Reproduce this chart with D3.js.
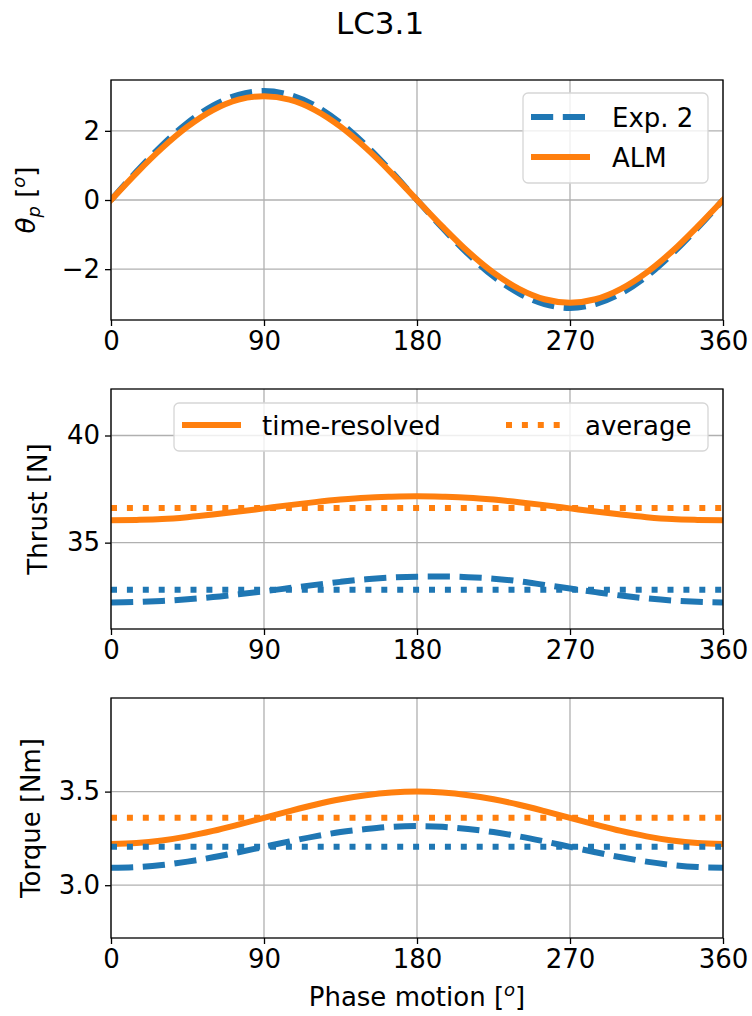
<!DOCTYPE html>
<html>
<head>
<meta charset="utf-8">
<script src="https://cdn.jsdelivr.net/npm/d3@7"></script>
<style>
  body { margin: 0; background: #fff; }
  svg { display: block; font-family: "DejaVu Sans", sans-serif; }
</style>
</head>
<body>
<div id="chart"></div>
<script>
// phase positions (deg)
var phase = [0, 15, 30, 45, 60, 75, 90, 105, 120, 135, 150, 165, 180,
    195, 210, 225, 240, 255, 270, 285, 300, 315, 330, 345, 360];

var thetaExp = [0, 0.82, 1.58, 2.23, 2.73, 3.04, 3.15, 3.04, 2.73, 2.23, 1.58, 0.82, 0,
    -0.81, -1.56, -2.21, -2.70, -3.01, -3.12, -3.01, -2.70, -2.21, -1.56, -0.81, 0];
var thetaAlm = [0, 0.78, 1.50, 2.12, 2.60, 2.90, 3.00, 2.90, 2.60, 2.12, 1.50, 0.78, 0,
    -0.77, -1.49, -2.10, -2.57, -2.87, -2.97, -2.87, -2.57, -2.10, -1.49, -0.77, 0];

var thrustExp = [32.21, 32.23, 32.28, 32.36, 32.46, 32.59, 32.73, 32.88, 33.03, 33.17, 33.29, 33.37, 33.41,
    33.42, 33.39, 33.32, 33.20, 33.03, 32.86, 32.69, 32.53, 32.40, 32.30, 32.24, 32.21];
var thrustAlm = [36.04, 36.06, 36.10, 36.19, 36.31, 36.45, 36.60, 36.75, 36.89, 37.01, 37.10, 37.14, 37.16,
    37.14, 37.10, 37.01, 36.89, 36.75, 36.60, 36.45, 36.31, 36.19, 36.10, 36.06, 36.04];
var thrustExpAvg = 32.80;
var thrustAlmAvg = 36.62;

var torqueExp = [3.093, 3.097, 3.108, 3.126, 3.149, 3.176, 3.205, 3.234, 3.261, 3.284, 3.300, 3.312, 3.316,
    3.312, 3.300, 3.284, 3.261, 3.234, 3.205, 3.176, 3.149, 3.126, 3.108, 3.097, 3.093];
var torqueAlm = [3.220, 3.225, 3.239, 3.261, 3.290, 3.324, 3.360, 3.396, 3.430, 3.459, 3.481, 3.495, 3.500,
    3.495, 3.481, 3.459, 3.430, 3.396, 3.360, 3.324, 3.290, 3.261, 3.239, 3.225, 3.220];
var torqueExpAvg = 3.205;
var torqueAlmAvg = 3.361;

var xTicks = [0, 90, 180, 270, 360];

var blue = "#1f77b4";
var orange = "#ff7f0e";

var width = 752, height = 1016;
var left = 111, right = 723, panelH = 240;
var fs = 26;

var svg = d3.select("#chart").append("svg")
    .attr("width", width)
    .attr("height", height);

var x = d3.scaleLinear().domain([0, 360]).range([left, right]);

var panels = [
    {top: 80, domain: [-3.47, 3.47], ticks: [-2, 0, 2], fmt: d3.format("d"), labelX: 35, label: "theta",
        lines: [
            {data: thetaExp, color: blue, dash: "22.2,9.6"},
            {data: thetaAlm, color: orange, dash: null}
        ]},
    {top: 389, domain: [30.97, 42.17], ticks: [35, 40], fmt: d3.format("d"), labelX: 47, label: "Thrust [N]",
        lines: [
            {data: thrustAlm, color: orange, dash: null},
            {avg: thrustAlmAvg, color: orange, dash: "6,9.9"},
            {data: thrustExp, color: blue, dash: "22.2,9.6"},
            {avg: thrustExpAvg, color: blue, dash: "6,9.9"}
        ]},
    {top: 698, domain: [2.718, 4.0], ticks: [3.0, 3.5], fmt: d3.format(".1f"), labelX: 40, label: "Torque [Nm]",
        lines: [
            {data: torqueAlm, color: orange, dash: null},
            {avg: torqueAlmAvg, color: orange, dash: "6,9.9"},
            {data: torqueExp, color: blue, dash: "22.2,9.6"},
            {avg: torqueExpAvg, color: blue, dash: "6,9.9"}
        ]}
];

svg.append("text")
    .attr("x", 380)
    .attr("y", 34)
    .attr("text-anchor", "middle")
    .attr("font-size", 31)
    .text("LC3.1");

panels.forEach(function (p, i) {
    var y = d3.scaleLinear().domain(p.domain).range([p.top + panelH, p.top]);
    var g = svg.append("g");

    g.append("clipPath")
        .attr("id", "clip" + i)
        .append("rect")
        .attr("x", left).attr("y", p.top)
        .attr("width", right - left).attr("height", panelH);

    // grid
    g.selectAll(".vgrid").data(xTicks).enter().append("line")
        .attr("x1", function (d) { return x(d); })
        .attr("x2", function (d) { return x(d); })
        .attr("y1", p.top).attr("y2", p.top + panelH)
        .attr("stroke", "#b0b0b0").attr("stroke-width", 1.3);
    g.selectAll(".hgrid").data(p.ticks).enter().append("line")
        .attr("y1", function (d) { return y(d); })
        .attr("y2", function (d) { return y(d); })
        .attr("x1", left).attr("x2", right)
        .attr("stroke", "#b0b0b0").attr("stroke-width", 1.3);

    var line = d3.line()
        .x(function (d) { return x(d[0]); })
        .y(function (d) { return y(d[1]); })
        .curve(d3.curveMonotoneX);

    var plot = g.append("g").attr("clip-path", "url(#clip" + i + ")");
    p.lines.forEach(function (s) {
        var pts = s.data ? phase.map(function (ph, k) { return [ph, s.data[k]]; })
            : [[0, s.avg], [360, s.avg]];
        plot.append("path")
            .attr("d", line(pts))
            .attr("fill", "none")
            .attr("stroke", s.color)
            .attr("stroke-width", 6)
            .attr("stroke-dasharray", s.dash)
            .attr("stroke-linecap", s.dash ? "butt" : "square");
    });

    // spines
    g.append("rect")
        .attr("x", left).attr("y", p.top)
        .attr("width", right - left).attr("height", panelH)
        .attr("fill", "none").attr("stroke", "#000").attr("stroke-width", 1.3);

    // x axis
    var xAxis = g.append("g")
        .attr("transform", "translate(0," + (p.top + panelH) + ")")
        .call(d3.axisBottom(x).tickValues(xTicks).tickSize(6).tickPadding(6).tickFormat(d3.format("d")));
    xAxis.select(".domain").remove();
    xAxis.selectAll("line").attr("stroke-width", 1.3);
    xAxis.selectAll("text").attr("font-size", fs).attr("fill", "#000")
        .attr("font-family", "DejaVu Sans");

    // y axis
    var yAxis = g.append("g")
        .attr("transform", "translate(" + left + ",0)")
        .call(d3.axisLeft(y).tickValues(p.ticks).tickSize(6).tickPadding(5)
            .tickFormat(function (d) { return p.fmt(d).replace("-", "\u2212"); }));
    yAxis.select(".domain").remove();
    yAxis.selectAll("line").attr("stroke-width", 1.3);
    yAxis.selectAll("text").attr("font-size", fs).attr("fill", "#000")
        .attr("font-family", "DejaVu Sans");

    // y label
    var cy = p.top + panelH / 2;
    var lab = svg.append("text")
        .attr("transform", "translate(" + p.labelX + "," + cy + ") rotate(-90)")
        .attr("text-anchor", "middle")
        .attr("font-size", fs);
    if (p.label === "theta") {
        lab.append("tspan").attr("font-style", "italic").text("\u03b8");
        lab.append("tspan").attr("font-style", "italic").attr("font-size", 18).attr("dy", 5).text("p");
        lab.append("tspan").attr("dy", -5).text(" [");
        lab.append("tspan").attr("font-style", "italic").attr("font-size", 18).attr("dy", -10).text("o");
        lab.append("tspan").attr("dy", 10).text("]");
    } else {
        lab.text(p.label);
    }
});

// x label
var xl = svg.append("text")
    .attr("x", (left + right) / 2)
    .attr("y", 1006)
    .attr("text-anchor", "middle")
    .attr("font-size", fs);
xl.append("tspan").text("Phase motion [");
xl.append("tspan").attr("font-style", "italic").attr("font-size", 18).attr("dy", -10).text("o");
xl.append("tspan").attr("dy", 10).text("]");

// legends
function legendBox(x0, y0, w, h) {
    svg.append("rect")
        .attr("x", x0).attr("y", y0)
        .attr("width", w).attr("height", h)
        .attr("rx", 5)
        .attr("fill", "#fff").attr("fill-opacity", 0.8)
        .attr("stroke", "#d6d6d6").attr("stroke-width", 1.3);
}
function legendItem(hx, ty, tx, color, dash, label) {
    svg.append("line")
        .attr("x1", hx).attr("x2", hx + 59)
        .attr("y1", ty).attr("y2", ty)
        .attr("stroke", color).attr("stroke-width", 6)
        .attr("stroke-dasharray", dash);
    svg.append("text")
        .attr("x", tx).attr("y", ty + 9.5)
        .attr("font-size", fs)
        .text(label);
}

legendBox(523, 93, 185, 90);
legendItem(531, 117, 612, blue, "22.2,9.6", "Exp. 2");
legendItem(531, 157, 612, orange, null, "ALM");

legendBox(174, 403, 534, 48);
legendItem(182, 425, 262, orange, null, "time-resolved");
legendItem(506, 425, 585, orange, "6,9.9", "average");
</script>
</body>
</html>
